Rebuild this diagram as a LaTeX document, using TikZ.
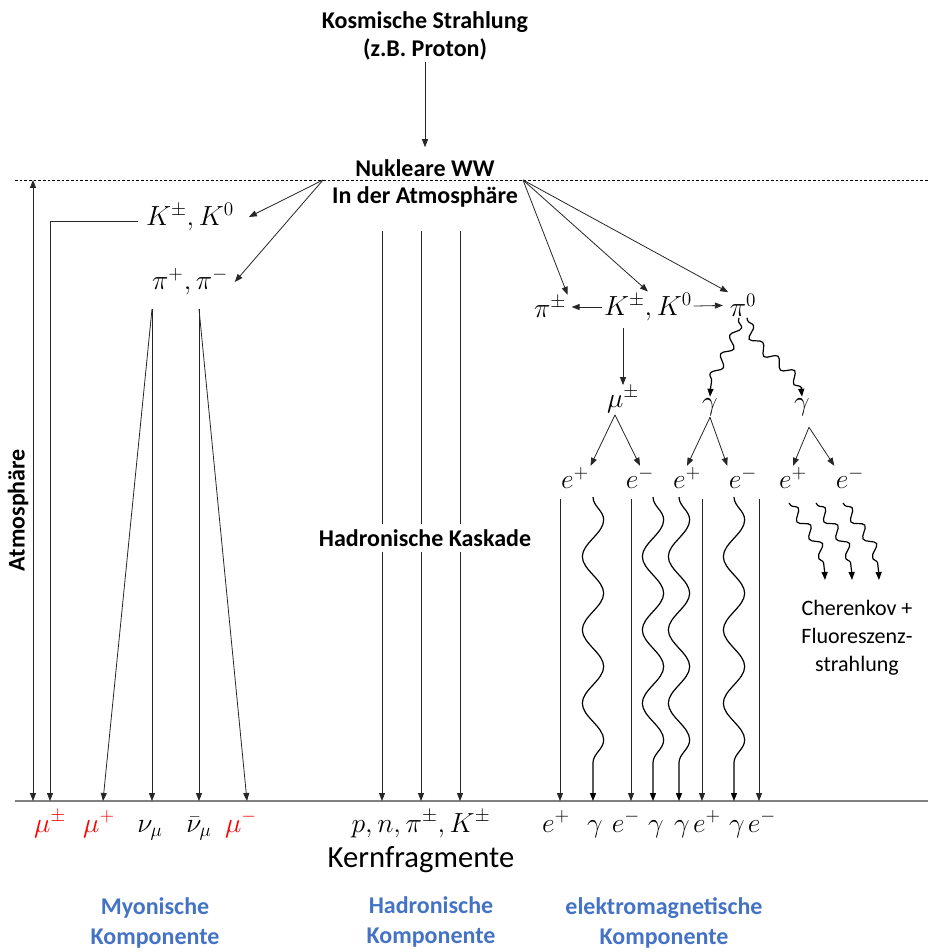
\documentclass[tikz,border=0pt]{standalone}
\usepackage[no-math]{fontspec}
\setmainfont{Carlito}
\usetikzlibrary{arrows.meta,positioning,decorations.pathmorphing}
\definecolor{compblue}{RGB}{68,114,196}

\begin{document}
\begin{tikzpicture}[x=0.75pt, y=-0.75pt, >={Triangle[length=6pt,width=4.5pt]},
  lbl/.style={font=\bfseries\fontsize{18}{21}\selectfont, align=center, inner sep=1pt},
  comp/.style={lbl, text=compblue, font=\bfseries\fontsize{18}{22}\selectfont},
  plain/.style={font=\fontsize{16.5}{21}\selectfont, align=center, inner sep=1pt},
  prt/.style={font=\fontsize{22}{26}\selectfont, inner sep=1pt},
  mu/.style={prt, text=red},
  ln/.style={draw=black!85, line width=0.6pt},
  wave/.style={draw=black, line width=0.9pt, decorate, decoration={snake, amplitude=8pt, segment length=55pt, post length=6pt}},
  wiggle/.style={draw=black, line width=0.9pt, decorate, decoration={snake, amplitude=3.5pt, segment length=16pt, pre length=2pt, post length=6pt}}]
\useasboundingbox (0,0) rectangle (928,952);

% Primaerteilchen
\node[lbl] (cr) at (425,36) {Kosmische Strahlung\\(z.B. Proton)};
\node[lbl] (nww) at (425,168) {Nukleare WW};
\node[lbl] (inatm) at (425,197) {In der Atmosphäre};
\draw[ln,->] (cr) -- ([yshift=8pt]nww.north);

% Grenze und Boden
\draw[line width=0.6pt, dash pattern=on 2pt off 1.5pt] (15,180) -- (928,180);
\draw[gray, line width=1.5pt] (15,801) -- (928,801);
\coordinate (wwL) at (323,180);
\coordinate (wwR) at (523,180);
\coordinate (atmTop) at (33,180);
\coordinate (atmBot) at (33,801);
\draw[ln,<->] (atmTop) -- (atmBot);
\node[lbl, rotate=90] (atm) at (18,510) {Atmosphäre};

% myonische Komponente
\node[prt] (kL) at (190,217) {$K^{\pm}, K^{0}$};
\node[prt] (piL) at (190,282) {$\pi^{+}, \pi^{-}$};
\draw[ln,->] (wwL) -- ([xshift=10pt]kL.east);
\draw[ln,->] (wwL) -- ([xshift=4pt]piL.east);
\coordinate (piA) at (152,309);
\coordinate (piB) at (199,309);
\coordinate (gMuPM) at (50,801);
\coordinate (gMuP) at (103,801);
\coordinate (gNu) at (152,801);
\coordinate (gNuBar) at (199,801);
\coordinate (gMuM) at (247,801);
\draw[ln,->] ([xshift=-5pt,yshift=-3pt]kL.west) -| (gMuPM);
\draw[ln,->] (piA) -- (gMuP);
\draw[ln,->] (piA) -- (gNu);
\draw[ln,->] (piB) -- (gNuBar);
\draw[ln,->] (piB) -- (gMuM);
\node[mu, anchor=base] (bMuPM) at (50,832) {$\mu^{\pm}$};
\node[mu, anchor=base] (bMuP) at (99,832) {$\mu^{+}$};
\node[prt, anchor=base] (bNu) at (150,832) {$\nu_{\mu}$};
\node[prt, anchor=base] (bNuBar) at (199,832) {$\bar{\nu}_{\mu}$};
\node[mu, anchor=base] (bMuM) at (241,832) {$\mu^{-}$};

% hadronische Komponente
\foreach \i/\x in {1/382,2/421,3/460}{
  \coordinate (hT\i) at (\x,231);
  \coordinate (gH\i) at (\x,801);
  \draw[ln,->] (hT\i) -- (gH\i);
}
\node[lbl, fill=white, inner sep=4pt] (kaskade) at (425,538) {Hadronische Kaskade};
\node[prt, anchor=base] (bHad) at (421,832) {$p, n, \pi^{\pm}, K^{\pm}$};
\node[font=\fontsize{23}{27}\selectfont, below=2pt of bHad] (kern) {Kernfragmente};

% elektromagnetische Komponente
\node[prt] (piPM) at (550,307) {$\pi^{\pm}$};
\node[prt] (kR) at (648,307) {$K^{\pm}, K^{0}$};
\node[prt] (pi0) at (743,305) {$\pi^{0}$};
\draw[ln,->] (wwR) -- (piPM.north east);
\draw[ln,->] (wwR) -- (kR.north);
\draw[ln,->] (wwR) -- (pi0.north west);
\draw[ln,->,shorten >=3pt] (kR) -- (piPM);
\draw[ln,->,shorten >=4pt] (kR) -- (pi0);
\node[prt] (muR) at (623,400) {$\mu^{\pm}$};
\node[prt] (ga1) at (710,407) {$\gamma$};
\node[prt] (ga2) at (802,407) {$\gamma$};
\draw[ln,->,shorten <=4pt] (muR.north |- kR.south) -- (muR.north);
\draw[wiggle,->] ([xshift=-3pt]pi0.south) to[out=-100,in=90] (ga1.north);
\draw[wiggle,->] ([xshift=3pt]pi0.south) to[out=-80,in=90] (ga2.north);
\node[prt] (eP1) at (575,478) {$e^{+}$};
\node[prt] (eM1) at (640,478) {$e^{-}$};
\node[prt] (eP2) at (687,478) {$e^{+}$};
\node[prt] (eM2) at (743,478) {$e^{-}$};
\node[prt] (eP3) at (793,478) {$e^{+}$};
\node[prt] (eM3) at (850,478) {$e^{-}$};
\draw[ln,->] ([xshift=-6pt]muR.south) -- (eP1.north east);
\draw[ln,->] ([xshift=-6pt]muR.south) -- (eM1.north);
\draw[ln,->] (ga1.south) -- (eP2.north);
\draw[ln,->] (ga1.south) -- (eM2.north west);
\draw[ln,->] ([shift={(7,10)}]ga2.south) -- (eP3.north);
\draw[ln,->] ([shift={(7,10)}]ga2.south) -- (eM3.north west);

% Schauer bis zum Boden
\foreach \i/\x in {1/560,3/631,6/702,8/759}{
  \coordinate (tE\i) at (\x,499);
  \coordinate (gE\i) at (\x,801);
  \draw[ln,->] (tE\i) -- (gE\i);
}
\foreach \i/\x in {2/593,4/653,5/679,7/734}{
  \coordinate (tE\i) at (\x,497);
  \coordinate (gE\i) at (\x,801);
  \draw[wave,->] (tE\i) -- (gE\i);
}
\node[prt, anchor=base] (bE1) at (556,832) {$e^{+}$};
\node[prt, anchor=base] (bE2) at (595,832) {$\gamma$};
\node[prt, anchor=base] (bE3) at (626,832) {$e^{-}$};
\node[prt, anchor=base] (bE4) at (656,832) {$\gamma$};
\node[prt, anchor=base] (bE5) at (682,832) {$\gamma$};
\node[prt, anchor=base] (bE6) at (707,832) {$e^{+}$};
\node[prt, anchor=base] (bE7) at (737,832) {$\gamma$};
\node[prt, anchor=base] (bE8) at (762,832) {$e^{-}$};

% Cherenkov- und Fluoreszenzlicht
\node[plain] (cher) at (857,638) {Cherenkov +\\Fluoreszenz-\\strahlung};
\foreach \i/\x in {1/789,2/816,3/843}{
  \coordinate (cS\i) at (\x,503);
  \coordinate (cE\i) at (\x+36,580);
  \draw[wiggle,->] (cS\i) to[out=-55,in=90] (cE\i);
}

% Komponenten
\node[comp] (myon) at (155,923) {Myonische\\Komponente};
\node[comp] (hadr) at (431,922) {Hadronische\\Komponente};
\node[comp] (elmag) at (664,923) {elektromagnetische\\Komponente};
\end{tikzpicture}
\end{document}
